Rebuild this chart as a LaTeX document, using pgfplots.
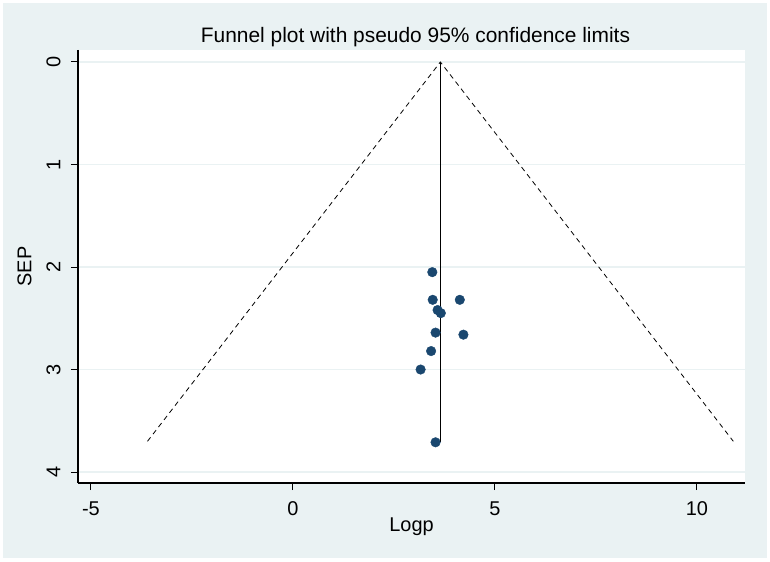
\documentclass[border=0pt]{standalone}
\usepackage{pgfplots}
\pgfplotsset{compat=1.18}
\usepackage{fontspec}
\setmainfont{Liberation Sans}
\definecolor{bg}{HTML}{EAF2F3}
\definecolor{navy}{HTML}{1A476F}
\begin{document}
\begin{tikzpicture}[x=1bp,y=1bp]
\fill[white] (0,0) rectangle (770,562);
\fill[bg] (3,4) rectangle (767,559);
\begin{axis}[at={(78bp,79bp)}, anchor=south west, scale only axis,
  width=667bp, height=433bp,
  xmin=-5.32, xmax=11.19, ymin=-0.117, ymax=4.107, y dir=reverse,
  axis background/.style={fill=white},
  axis x line*=bottom, axis y line*=left,
  axis line style={line width=1.2bp, -},
  xtick={-5,0,5,10}, ytick={0,1,2,3,4},
  tick align=outside, major tick length=7bp,
  tick style={black, line width=1bp},
  ymajorgrids, grid style={color=bg, line width=1.5bp},
  /pgf/number format/assume math mode=true,
  ticklabel style={font=\fontsize{20}{22}\selectfont},
  yticklabel style={rotate=90, anchor=south, yshift=7bp},
  xticklabel style={yshift=-8bp},
  xlabel={Logp}, ylabel={SEP},
  label style={font=\fontsize{20}{22}\selectfont},
  xlabel style={yshift=5bp},
  ylabel style={yshift=8bp},
  title={Funnel plot with pseudo 95\% confidence limits},
  title style={font=\fontsize{21}{24}\selectfont, yshift=-6bp, xshift=4bp},
  clip=false,
]
\addplot[black, line width=0.8bp, dash pattern=on 5bp off 4bp] coordinates {(-3.6,3.70) (3.65,0) (10.9,3.70)};
\addplot[black, line width=1.5bp] coordinates {(3.65,0) (3.65,3.71)};
\addplot[only marks, mark=*, mark size=4.8bp, mark options={fill=navy, draw=navy}] coordinates {
(3.45,2.05) (3.46,2.32) (4.13,2.32) (3.58,2.42) (3.66,2.45) (3.53,2.64) (4.22,2.66) (3.42,2.82) (3.16,3.00) (3.53,3.71)};
\end{axis}
\end{tikzpicture}
\end{document}
